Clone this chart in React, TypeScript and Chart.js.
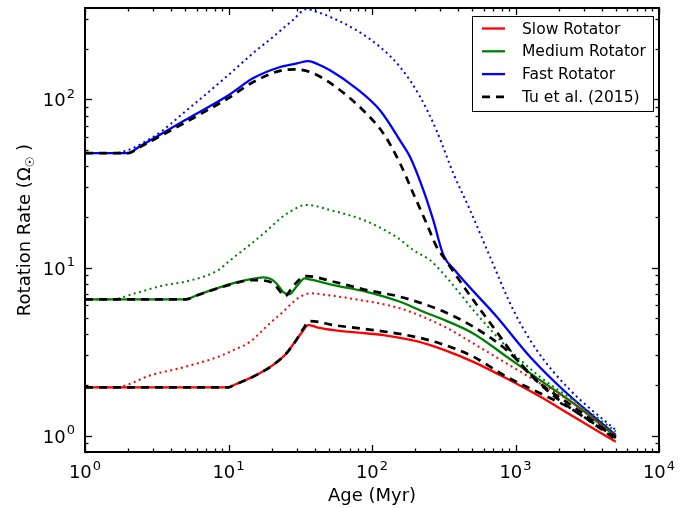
import React, { useEffect, useRef } from "react";
import { Chart, registerables } from "chart.js";
Chart.register(...registerables);

// ---- Data (age in Myr, rotation rate in solar units) ----
const slowAges = [1, 10, 11, 13, 16.5, 20, 25, 29.7, 33, 36, 42, 54, 80, 120, 204, 320, 508, 868, 1482, 2530, 5000];
const slowRate = [1.94, 1.94, 2.01, 2.13, 2.35, 2.6, 3.05, 3.71, 4.2, 4.55, 4.4, 4.25, 4.1, 3.97, 3.65, 3.23, 2.75, 2.19, 1.71, 1.3, 0.92];

const slowDotAges = [1, 1.62, 2.92, 5, 8.5, 11, 14, 19.4, 24, 28, 31.5, 37, 50, 70, 157, 320, 508, 868, 1482, 2530, 5000];
const slowDotRate = [1.94, 1.94, 2.3, 2.57, 2.95, 3.25, 3.6, 4.66, 5.46, 6.2, 6.7, 7.03, 6.85, 6.56, 5.72, 4.45, 3.54, 2.69, 2.05, 1.56, 1.0];

const medAges = [1, 5, 6, 9.7, 14, 17.5, 20, 21.6, 24, 26.6, 29.7, 34, 37, 54, 92, 157, 228, 298, 508, 868, 1482, 2530, 5000];
const medRate = [6.47, 6.47, 6.83, 7.87, 8.5, 8.74, 8.5, 8.05, 7.18, 6.93, 7.69, 8.63, 8.5, 7.87, 7.18, 6.26, 5.46, 5.0, 4.06, 2.95, 2.14, 1.56, 0.99];

const medDotAges = [1, 1.53, 2.23, 3.6, 5, 8.5, 10.2, 14, 18.4, 22, 26.8, 35, 51, 87, 148, 194, 253, 298, 400, 508, 868, 1482, 2530, 5000];
const medDotRate = [6.47, 6.47, 7.03, 7.87, 8.24, 9.67, 11.0, 13.6, 16.5, 19, 21.5, 23.6, 22, 19.2, 15.2, 12.7, 11.1, 9.67, 7.2, 5.59, 3.38, 2.24, 1.63, 1.06];

const fastAges = [1, 2, 2.4, 5, 10, 14.9, 22.9, 30, 36, 42, 51, 78, 114, 157, 184, 228, 267, 314, 379, 740, 1262, 2153, 5000];
const fastRate = [48, 48, 52.5, 75.5, 106, 134, 156, 164, 169, 162, 149, 116, 86, 57, 45.6, 28.9, 19.2, 11.9, 9.6, 5.1, 2.95, 1.87, 1.01];

const fastDotAges = [1, 1.57, 3.0, 5.1, 10, 15, 20.5, 28, 35, 42, 51, 78, 114, 157, 216, 281, 369, 482, 664, 966, 1406, 2400, 5000];
const fastDotRate = [48, 48, 60, 86, 140, 190, 236, 296, 345, 330, 310, 258, 205, 156, 104, 65.7, 36.3, 22, 11.6, 5.59, 3.23, 1.87, 1.08];

const tuSlowAges = [1, 10, 11, 13, 16.5, 20, 25, 29.7, 33, 37, 54, 102, 174, 298, 508, 868, 1482, 2530, 5000];
const tuSlowRate = [1.94, 1.94, 2.01, 2.13, 2.35, 2.6, 3.05, 3.71, 4.3, 4.81, 4.55, 4.25, 3.97, 3.54, 2.95, 2.24, 1.79, 1.42, 0.95];

const tuMedAges = [1, 5, 6, 9.7, 14.9, 19.4, 21.6, 24, 24.8, 28, 33, 35, 54, 92, 157, 298, 508, 868, 1482, 2530, 5000];
const tuMedRate = [6.47, 6.47, 6.83, 7.8, 8.43, 8.24, 7.69, 6.87, 6.77, 7.69, 8.82, 8.9, 8.24, 7.35, 6.7, 5.59, 4.45, 3.23, 2.05, 1.49, 0.97];

const tuFastAges = [1, 2, 2.4, 5, 10, 14.9, 22.8, 29, 39, 60, 87, 120, 157, 194, 240, 282, 314, 508, 740, 1075, 1650, 2530, 5000];
const tuFastRate = [48, 48, 52, 73, 102, 127, 148, 151, 143, 113.5, 86, 62.8, 41.6, 27.6, 18.3, 13.3, 11.6, 6.41, 4.15, 2.69, 1.87, 1.42, 0.98];

const xDecades = [1, 10, 100, 1000, 10000];
const xDecadeExp = ["0", "1", "2", "3", "4"];
const yDecades = [1, 10, 100];
const yDecadeExp = ["0", "1", "2"];
const X_MIN = 1, X_MAX = 10000, Y_MIN = 0.8, Y_MAX = 350;

const legendLabels = ["Slow Rotator", "Medium Rotator", "Fast Rotator", "Tu et al. (2015)"];
const legendColors = ["#ff0000", "#008000", "#0000ff", "#000000"];

const RED = "#ff0000", GREEN = "#008000", BLUE = "#0000ff", BLACK = "#000000";
const FONT = "'DejaVu Sans', 'Liberation Sans', sans-serif";

const zip = (a: number[], b: number[]) => a.map((x, i) => ({ x, y: b[i] }));

const common = { pointRadius: 0, fill: false, cubicInterpolationMode: "monotone" as const };
const solid = (data: any, color: string) => ({ ...common, data, borderColor: color, borderWidth: 2.3 });
const dotted = (data: any, color: string) => ({ ...common, data, borderColor: color, borderWidth: 2, borderDash: [2, 3.5] });
const dashed = (data: any) => ({ ...common, data, borderColor: BLACK, borderWidth: 2.7, borderDash: [8, 6] });

function drawPow(ctx: CanvasRenderingContext2D, exp: string, x: number, y: number, align: "center" | "right") {
  const baseFont = `18px ${FONT}`;
  const supFont = `13px ${FONT}`;
  ctx.font = baseFont;
  const bw = ctx.measureText("10").width;
  ctx.font = supFont;
  const ew = ctx.measureText(exp).width;
  const total = bw + 1 + ew;
  const left = align === "center" ? x - total / 2 : x - total;
  ctx.textAlign = "left";
  ctx.textBaseline = "alphabetic";
  ctx.font = baseFont;
  ctx.fillText("10", left, y);
  ctx.font = supFont;
  ctx.fillText(exp, left + bw + 1, y - 8.5);
}

const framePlugin = {
  id: "frame",
  afterDraw(chart: any) {
    const { ctx, chartArea: a, scales } = chart;
    const xs = scales.x, ys = scales.y;
    ctx.save();
    ctx.fillStyle = "#000";
    ctx.strokeStyle = "#000";
    ctx.lineWidth = 1.3;
    const line = (x1: number, y1: number, x2: number, y2: number) => {
      ctx.beginPath(); ctx.moveTo(x1, y1); ctx.lineTo(x2, y2); ctx.stroke();
    };
    for (let k = 0; k <= 4; k++) {
      for (let m = 1; m <= 9; m++) {
        const v = m * Math.pow(10, k);
        if (v < X_MIN - 1e-9 || v > X_MAX + 1e-9) continue;
        const px = Math.round(xs.getPixelForValue(v)) + 0.5;
        const len = m === 1 ? 7 : 3.5;
        line(px, a.bottom, px, a.bottom - len);
        line(px, a.top, px, a.top + len);
      }
    }
    for (let k = -1; k <= 2; k++) {
      for (let m = 1; m <= 9; m++) {
        const v = m * Math.pow(10, k);
        if (v < Y_MIN - 1e-9 || v > Y_MAX + 1e-9) continue;
        const py = Math.round(ys.getPixelForValue(v)) + 0.5;
        const len = m === 1 ? 7 : 3.5;
        line(a.left, py, a.left + len, py);
        line(a.right, py, a.right - len, py);
      }
    }
    ctx.lineWidth = 2;
    ctx.strokeRect(a.left, a.top, a.right - a.left, a.bottom - a.top);

    xDecades.forEach((v, i) => {
      drawPow(ctx, xDecadeExp[i], xs.getPixelForValue(v), a.bottom + 26, "center");
    });
    yDecades.forEach((v, i) => {
      drawPow(ctx, yDecadeExp[i], a.left - 10, ys.getPixelForValue(v) + 7, "right");
    });

    ctx.font = `18px ${FONT}`;
    ctx.textAlign = "center";
    ctx.textBaseline = "alphabetic";
    ctx.fillText("Age (Myr)", (a.left + a.right) / 2, 501);

    ctx.save();
    ctx.translate(30, (a.top + a.bottom) / 2);
    ctx.rotate(-Math.PI / 2);
    const p1 = "Rotation Rate (";
    const p2 = "Ω";
    const p3 = "☉";
    const p4 = " )";
    const f1 = `18px ${FONT}`, f3 = `12px ${FONT}`;
    ctx.font = f1;
    const w1 = ctx.measureText(p1).width;
    const w2 = ctx.measureText(p2).width;
    const w4 = ctx.measureText(p4).width;
    ctx.font = f3; const w3 = ctx.measureText(p3).width;
    const tot = w1 + w2 + w3 + w4;
    let cx = -tot / 2;
    ctx.textAlign = "left";
    ctx.font = f1; ctx.fillText(p1, cx, 0); cx += w1;
    ctx.fillText(p2, cx, 0); cx += w2;
    ctx.font = f3; ctx.fillText(p3, cx, 4); cx += w3;
    ctx.font = f1; ctx.fillText(p4, cx, 0);
    ctx.restore();

    const lx = 472, ly = 16, lw = 181, lh = 95;
    ctx.fillStyle = "#fff";
    ctx.fillRect(lx, ly, lw, lh);
    ctx.strokeStyle = "#000";
    ctx.lineWidth = 1;
    ctx.strokeRect(lx + 0.5, ly + 0.5, lw, lh);
    ctx.font = `15.5px ${FONT}`;
    ctx.textAlign = "left";
    ctx.textBaseline = "middle";
    legendLabels.forEach((lab, i) => {
      const y = 28.5 + i * 22.8;
      ctx.strokeStyle = legendColors[i];
      ctx.lineWidth = i === 3 ? 2.7 : 2.3;
      ctx.setLineDash(i === 3 ? [8, 6] : []);
      ctx.beginPath(); ctx.moveTo(482, y); ctx.lineTo(505, y); ctx.stroke();
      ctx.setLineDash([]);
      ctx.fillStyle = "#000";
      ctx.fillText(lab, 522, y + 1);
    });
    ctx.restore();
  },
};

export default function App() {
  const ref = useRef<HTMLCanvasElement>(null);
  useEffect(() => {
    if (!ref.current) return;
    const chart = new Chart(ref.current, {
      type: "line",
      data: {
        datasets: [
          dashed(zip(tuSlowAges, tuSlowRate)),
          dashed(zip(tuMedAges, tuMedRate)),
          dashed(zip(tuFastAges, tuFastRate)),
          dotted(zip(slowDotAges, slowDotRate), RED),
          dotted(zip(medDotAges, medDotRate), GREEN),
          dotted(zip(fastDotAges, fastDotRate), BLUE),
          solid(zip(slowAges, slowRate), RED),
          solid(zip(medAges, medRate), GREEN),
          solid(zip(fastAges, fastRate), BLUE),
        ] as any,
      },
      options: {
        responsive: false,
        animation: false,
        devicePixelRatio: 1,
        layout: { padding: { left: 85, right: 33, top: 8, bottom: 56 } },
        plugins: { legend: { display: false }, tooltip: { enabled: false } },
        scales: {
          x: { type: "logarithmic", min: X_MIN, max: X_MAX, display: false },
          y: { type: "logarithmic", min: Y_MIN, max: Y_MAX, display: false },
        },
      },
      plugins: [framePlugin],
    });
    return () => chart.destroy();
  }, []);
  return (
    <div style={{ position: "fixed", left: 0, top: 0, width: 692, height: 508, background: "#fff" }}>
      <canvas ref={ref} width={692} height={508} style={{ width: 692, height: 508, display: "block" }} />
    </div>
  );
}
